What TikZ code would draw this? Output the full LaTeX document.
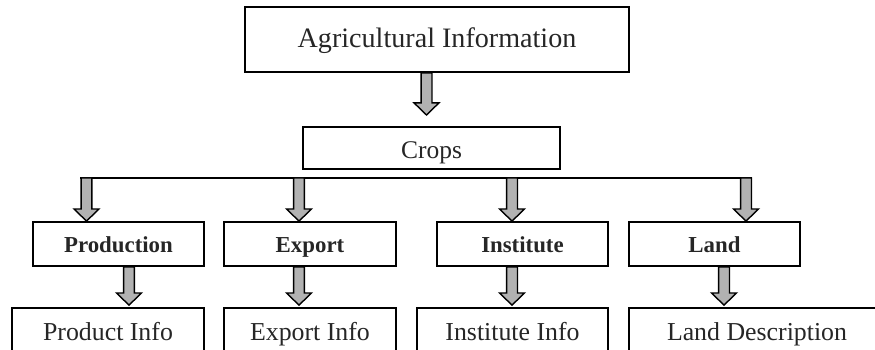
\documentclass[tikz,border=0pt]{standalone}
\usepackage{fontspec}
\setmainfont{Liberation Serif}
\usetikzlibrary{calc}
\definecolor{arrowgray}{RGB}{178,178,178}
% hollow block arrow pointing down, from #1 (height of tail) to #2 (tip)
\newcommand{\fatarrow}[2]{%
  \draw[blockarrow] let \p1=(#1), \p2=(#2) in
    (\x2-3.1pt,\y1) -- (\x2-3.1pt,\y2+6.9pt) -- (\x2-7.1pt,\y2+6.9pt) -- (\x2,\y2)
    -- (\x2+7.1pt,\y2+6.9pt) -- (\x2+3.1pt,\y2+6.9pt) -- (\x2+3.1pt,\y1) -- cycle;}

\begin{document}
\begin{tikzpicture}[x=0.02cm,y=-0.02cm,
    box/.style={draw,line width=1pt,rectangle,inner sep=0pt,text=black!85,text height=2.1ex,text depth=0ex},
    toptext/.style={font=\fontsize{16}{19}\selectfont},
    midtext/.style={font=\fontsize{14.5}{17}\selectfont},
    headtext/.style={font=\fontsize{13}{15}\selectfont\bfseries},
    infotext/.style={font=\fontsize{14.7}{17}\selectfont},
    blockarrow/.style={draw=black,line width=0.8pt,fill=arrowgray,line join=miter}]
    % frame
    \useasboundingbox (0,0) rectangle (875,350);
    \clip (0,0) rectangle (875,350);
    % top
    \node[box,toptext,minimum width=384*0.02cm,minimum height=65*0.02cm] (agri) at (437,39.5) {Agricultural Information};
    \node[box,midtext,minimum width=257*0.02cm,minimum height=42*0.02cm,text height=2.6ex] (crops) at (431.5,148) {Crops};
    % categories
    \node[box,headtext,minimum width=171*0.02cm,minimum height=44*0.02cm] (prod) at (118.5,244) {Production};
    \node[box,headtext,minimum width=172*0.02cm,minimum height=44*0.02cm] (export) at (310,244) {Export};
    \node[box,headtext,minimum width=171*0.02cm,minimum height=44*0.02cm] (inst) at (522.5,244) {Institute};
    \node[box,headtext,minimum width=171*0.02cm,minimum height=44*0.02cm] (land) at (714.5,244) {Land};
    % details
    \node[box,infotext,minimum width=192*0.02cm,minimum height=48*0.02cm] (prodinfo) at (108,332) {Product Info};
    \node[box,infotext,minimum width=172*0.02cm,minimum height=48*0.02cm] (exportinfo) at (310,332) {Export Info};
    \node[box,infotext,minimum width=191*0.02cm,minimum height=48*0.02cm] (instinfo) at (512.5,332) {Institute Info};
    \node[box,infotext,minimum width=256*0.02cm,minimum height=48*0.02cm] (landinfo) at (757,332) {Land Description};
    % arrow to crops
    \coordinate (cropstip) at (426.5,115);
    \fatarrow{agri.south}{cropstip}
    % bar
    \coordinate (barleft) at (80,178);
    \coordinate (barright) at (752,178);
    \draw[line width=1pt] (barleft) -- (barright);
    \coordinate (bprod) at (86.5,178);
    \coordinate (bexport) at (299,178);
    \coordinate (binst) at (512,178);
    \coordinate (bland) at (746,178);
    \fatarrow{bprod}{bprod |- prod.north}
    \fatarrow{bexport}{bexport |- export.north}
    \fatarrow{binst}{binst |- inst.north}
    \fatarrow{bland}{bland |- land.north}
    % arrows to details
    \coordinate (xprod) at (129,0);
    \coordinate (xexport) at (299,0);
    \coordinate (xinst) at (512,0);
    \coordinate (xland) at (724,0);
    \fatarrow{prod.south}{$(xprod |- prodinfo.north)+(0,-2)$}
    \fatarrow{export.south}{$(xexport |- exportinfo.north)+(0,-2)$}
    \fatarrow{inst.south}{$(xinst |- instinfo.north)+(0,-2)$}
    \fatarrow{land.south}{$(xland |- landinfo.north)+(0,-2)$}
\end{tikzpicture}
\end{document}
